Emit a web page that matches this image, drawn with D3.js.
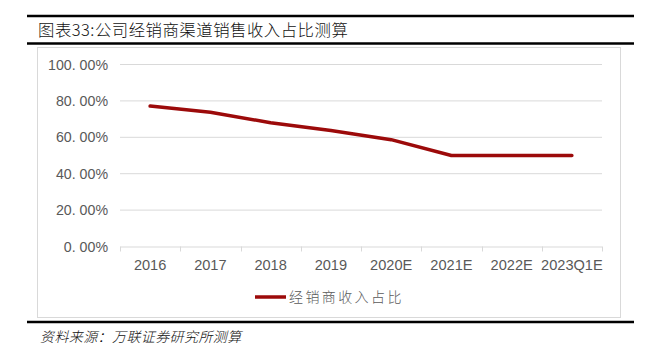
<!DOCTYPE html>
<html><head><meta charset="utf-8">
<script src="https://cdn.jsdelivr.net/npm/d3@7/dist/d3.min.js"></script>
<style>body{margin:0;background:#fff;}svg{display:block;}</style>
</head><body>
<svg id="c" width="650" height="356"></svg>
<script>
const categories = ["2016","2017","2018","2019","2020E","2021E","2022E","2023Q1E"];
const shareValues = [77.2, 73.8, 68.0, 63.7, 58.7, 50.0, 50.0, 50.0];
const yTicks = [0, 20, 40, 60, 80, 100];
const yTickLabels = ["0. 00%","20. 00%","40. 00%","60. 00%","80. 00%","100. 00%"];
const seriesName = "经销商收入占比";
const titleText = "图表33:公司经销商渠道销售收入占比测算";
const sourceText = "资料来源：万联证券研究所测算";

const svg = d3.select("#c");
const cjk = "'Noto Sans CJK SC', sans-serif";
const latin = "'Liberation Sans', Arial, sans-serif";

// header rules
svg.append("line").attr("x1",27).attr("x2",634).attr("y1",16).attr("y2",16).attr("stroke","#000").attr("stroke-width",2.5);
svg.append("text").attr("x",38).attr("y",36).attr("font-family",cjk).attr("font-weight",300).attr("font-size",16.4).attr("letter-spacing",0.5).attr("fill","#111").text(titleText);
svg.append("line").attr("x1",27).attr("x2",634).attr("y1",43.5).attr("y2",43.5).attr("stroke","#000").attr("stroke-width",2.5);

// chart frame
svg.append("rect").attr("x",37.5).attr("y",47.5).attr("width",583).attr("height",270).attr("fill","#fff").attr("stroke","#d9d9d9");

const x = d3.scaleBand().domain(categories).range([120,602]);
const y = d3.scaleLinear().domain([0,100]).range([246.5,64.5]);

// grid
svg.append("g").selectAll("line").data(yTicks.filter(d=>d>0)).join("line")
  .attr("x1",120).attr("x2",602).attr("y1",d=>y(d)).attr("y2",d=>y(d))
  .attr("stroke","#d9d9d9").attr("stroke-width",1);

// y labels
svg.append("g").selectAll("text").data(yTicks).join("text")
  .attr("x",108).attr("y",d=>y(d)+5).attr("text-anchor","end")
  .attr("font-family",latin).attr("font-size",14.2).attr("fill","#595959")
  .text((d,i)=>yTickLabels[i]);

// x axis
const xa = svg.append("g").attr("transform",`translate(0,${y(0)})`)
  .call(d3.axisBottom(x).tickSize(0).tickPadding(13));
xa.select(".domain").attr("stroke","#d9d9d9").attr("d","M120.5,0.5H602");
xa.selectAll("text").attr("font-family",latin).attr("font-size",14.6).attr("fill","#595959");
const bounds = categories.map(c=>x(c)).concat([x.range()[1]]);
svg.append("g").selectAll("line").data(bounds).join("line")
  .attr("x1",d=>Math.round(d)+0.5).attr("x2",d=>Math.round(d)+0.5)
  .attr("y1",y(0)).attr("y2",y(0)+5).attr("stroke","#d9d9d9");

// line
const line = d3.line().x((d,i)=>x(categories[i])+x.bandwidth()/2).y(d=>y(d));
svg.append("path").datum(shareValues).attr("d",line).attr("fill","none")
  .attr("stroke","#9c0a0a").attr("stroke-width",3.5).attr("stroke-linecap","round").attr("stroke-linejoin","round");

// legend
svg.append("line").attr("x1",255).attr("x2",286).attr("y1",297).attr("y2",297).attr("stroke","#9c0a0a").attr("stroke-width",3.5);
svg.append("text").attr("x",289).attr("y",302).attr("font-family",cjk).attr("font-weight",300).attr("font-size",14).attr("fill","#595959").attr("letter-spacing",2.4).text(seriesName);

// bottom rule and source
svg.append("line").attr("x1",27).attr("x2",634).attr("y1",322).attr("y2",322).attr("stroke","#000").attr("stroke-width",2.5);
svg.append("text").attr("x",40).attr("y",342).attr("font-family",cjk).attr("font-weight",300).attr("font-size",14).attr("letter-spacing",0.4).attr("font-style","italic").attr("fill","#111").text(sourceText);
</script>
</body></html>
